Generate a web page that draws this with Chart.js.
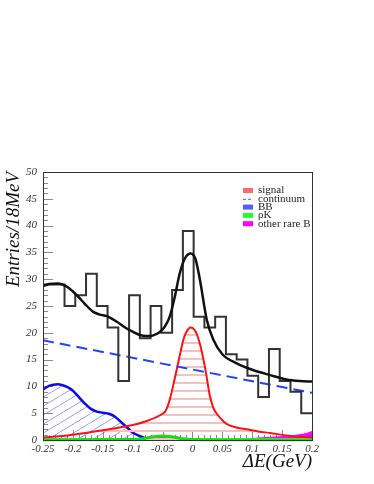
<!DOCTYPE html>
<html>
<head>
<meta charset="utf-8">
<script src="https://cdn.jsdelivr.net/npm/chart.js@4"></script>
<style>
  html, body { margin: 0; padding: 0; background: #fff; }
  canvas { display: block; }
</style>
</head>
<body>
<canvas id="deChart" width="374" height="484"></canvas>
<script>
// histogram: 25 bins of 18 MeV from -0.25 GeV
const binStart = -0.25;
const binWidth = 0.018;
const counts = [29, 29, 25, 27, 31, 25, 21, 11, 27, 19, 25, 20, 28, 39, 23, 21, 23, 16, 15, 12, 8, 17, 11, 9, 5];

// total fit
const fitX = [-0.25, -0.24, -0.225, -0.21, -0.2, -0.19, -0.18, -0.166, -0.155, -0.143, -0.127, -0.11, -0.1, -0.088, -0.078, -0.07, -0.06, -0.054, -0.046, -0.038, -0.03, -0.021, -0.012, -0.003, 0.005, 0.0125, 0.024, 0.035, 0.05, 0.074, 0.1, 0.13, 0.157, 0.18, 0.2];
const fitY = [28.7, 29.1, 29.2, 28.6, 27.7, 26.6, 25.4, 23.9, 23.4, 23.1, 22.1, 20.8, 20.2, 19.6, 19.4, 19.4, 19.8, 20.2, 21.2, 23.0, 26.5, 31.2, 34.0, 34.8, 33.8, 29.9, 22.4, 18.7, 16.0, 14.3, 13.1, 12.1, 11.3, 11.0, 10.9];

// signal
const sigX = [-0.25, -0.2, -0.15, -0.1, -0.075, -0.05, -0.045, -0.038, -0.03, -0.025, -0.02, -0.015, -0.01, -0.003, 0.005, 0.01, 0.015, 0.022, 0.029, 0.035, 0.04, 0.05, 0.057, 0.075, 0.09, 0.11, 0.13, 0.16, 0.18, 0.2];
const sigY = [0.45, 1.0, 1.8, 2.8, 3.6, 4.9, 5.4, 7.5, 11.3, 13.8, 16.4, 18.8, 20.2, 21.0, 20.3, 18.9, 16.8, 13.0, 8.3, 6.0, 5.0, 3.7, 3.0, 2.3, 2.0, 1.6, 1.3, 0.8, 0.6, 0.4];

// continuum (dashed)
const contX = [-0.25, 0.2];
const contY = [18.6, 8.8];

// BB background
const bbX = [-0.25, -0.24, -0.225, -0.21, -0.2, -0.19, -0.18, -0.17, -0.16, -0.15, -0.14, -0.13, -0.12, -0.11, -0.1, -0.09, -0.08, -0.07, -0.06, -0.04, 0.2];
const bbY = [9.4, 10.1, 10.4, 9.9, 9.2, 8.0, 6.8, 5.8, 5.3, 5.1, 4.9, 4.4, 3.4, 2.4, 1.4, 0.8, 0.4, 0.15, 0.05, 0, 0];

// rho K
const rhoX = [-0.25, -0.1, -0.08, -0.065, -0.05, -0.035, -0.02, 0, 0.05, 0.2];
const rhoY = [0.05, 0.1, 0.3, 0.6, 0.75, 0.6, 0.3, 0.1, 0.05, 0.05];

// other rare B
const rareX = [-0.25, -0.1, -0.08, -0.06, -0.05, -0.04, -0.02, 0, 0.05, 0.1, 0.13, 0.16, 0.18, 0.19, 0.2];
const rareY = [0.05, 0.1, 0.3, 0.45, 0.5, 0.45, 0.25, 0.15, 0.15, 0.3, 0.5, 0.7, 1.0, 1.2, 1.6];

const xTickValues = [-0.25, -0.2, -0.15, -0.1, -0.05, 0, 0.05, 0.1, 0.15, 0.2];
const yTickValues = [0, 5, 10, 15, 20, 25, 30, 35, 40, 45, 50];
const legendLabels = ["signal", "continuum", "BB", "\u03C1K", "other rare B"];

const serif = "'Liberation Serif', 'DejaVu Serif', serif";

function zip(xs, ys) {
  return xs.map((x, i) => ({ x, y: ys[i] }));
}

function histPoints() {
  const pts = counts.map((c, i) => ({ x: binStart + i * binWidth, y: c }));
  pts.push({ x: binStart + counts.length * binWidth, y: counts[counts.length - 1] });
  return pts;
}

function hatchPattern(w, h, color, draw) {
  const c = document.createElement("canvas");
  c.width = w;
  c.height = h;
  const g = c.getContext("2d");
  g.fillStyle = color;
  g.strokeStyle = color;
  g.lineWidth = 1;
  draw(g, w, h);
  return g.createPattern(c, "repeat");
}

// pink horizontal lines, one every 8 px
const sigHatch = hatchPattern(8, 8, "#ffbcbc", (g, w, h) => {
  g.fillRect(0, h - 2, w, 2);
});

const bbHatch = hatchPattern(15, 9, "rgba(90,90,255,0.6)", (g, w, h) => {
  g.beginPath();
  g.moveTo(-w, 2 * h);
  g.lineTo(2 * w, -h);
  g.stroke();
});

const frameAndTicks = {
  id: "frameAndTicks",
  beforeDatasetsDraw(chart) {
    const { ctx, chartArea: a, scales: { x, y } } = chart;
    ctx.save();
    ctx.strokeStyle = "#8a8a8a";
    ctx.lineWidth = 1;
    ctx.beginPath();
    for (let i = 0; i <= 50; i++) {
      const py = Math.round(y.getPixelForValue(i)) + 0.5;
      const len = i % 5 === 0 ? 10 : 5;
      ctx.moveTo(a.left, py);
      ctx.lineTo(a.left + len, py);
    }
    for (let i = 0; i <= 45; i++) {
      const px = Math.round(x.getPixelForValue(-0.25 + i * 0.01)) + 0.5;
      const len = i % 5 === 0 ? 10 : 5;
      ctx.moveTo(px, a.bottom);
      ctx.lineTo(px, a.bottom - len);
    }
    ctx.stroke();
    ctx.restore();
  },
  afterDatasetsDraw(chart) {
    const { ctx, chartArea: a } = chart;
    ctx.save();
    ctx.strokeStyle = "#333";
    ctx.lineWidth = 1;
    ctx.strokeRect(a.left + 0.5, a.top + 0.5, a.right - a.left, a.bottom - a.top);

    // legend
    const lx = 243, ly = 190.5, step = 8.3;
    ctx.font = "11px " + serif;
    ctx.textBaseline = "middle";
    legendLabels.forEach((label, i) => {
      const cy = ly + i * step;
      if (i === 0) { ctx.fillStyle = "#ff6a6a"; ctx.fillRect(lx, cy - 2.5, 10, 5); }
      if (i === 1) {
        ctx.strokeStyle = "#3355ff";
        ctx.setLineDash([3, 2]);
        ctx.beginPath(); ctx.moveTo(lx, cy + 0.5); ctx.lineTo(lx + 10, cy + 0.5); ctx.stroke();
        ctx.setLineDash([]);
      }
      if (i === 2) { ctx.fillStyle = "#5a5aff"; ctx.fillRect(lx, cy - 2.5, 10, 5); }
      if (i === 3) { ctx.fillStyle = "#22ff22"; ctx.fillRect(lx, cy - 2.5, 10, 5); }
      if (i === 4) { ctx.fillStyle = "#ff00ff"; ctx.fillRect(lx, cy - 2.5, 10, 5); }
      ctx.fillStyle = "#222";
      ctx.fillText(label, lx + 15, cy);
    });
    ctx.restore();
  },
};

const ctx = document.getElementById("deChart").getContext("2d");

new Chart(ctx, {
  type: "line",
  data: {
    datasets: [
      {
        label: "other rare B",
        data: zip(rareX, rareY),
        borderColor: "#ff00ff",
        backgroundColor: "#ff00ff",
        borderWidth: 1,
        fill: "origin",
        cubicInterpolationMode: "monotone",
        order: 7,
      },
      {
        label: "BB",
        data: zip(bbX, bbY),
        borderColor: "#0a0aee",
        backgroundColor: bbHatch,
        borderWidth: 2.5,
        fill: "origin",
        cubicInterpolationMode: "monotone",
        order: 6,
      },
      {
        label: "signal",
        data: zip(sigX, sigY),
        borderColor: "#ff1010",
        backgroundColor: sigHatch,
        borderWidth: 2,
        fill: "origin",
        cubicInterpolationMode: "monotone",
        order: 5,
      },
      {
        label: "rhoK",
        data: zip(rhoX, rhoY),
        borderColor: "#10e010",
        borderWidth: 3,
        fill: false,
        cubicInterpolationMode: "monotone",
        clip: 4,
        order: 4,
      },
      {
        label: "continuum",
        data: zip(contX, contY),
        borderColor: "#2244ff",
        borderWidth: 2,
        borderDash: [11, 6],
        fill: false,
        order: 3,
      },
      {
        label: "data",
        data: histPoints(),
        borderColor: "#333",
        borderWidth: 2,
        stepped: "before",
        fill: false,
        order: 2,
      },
      {
        label: "fit",
        data: zip(fitX, fitY),
        borderColor: "#111",
        borderWidth: 2.5,
        fill: false,
        cubicInterpolationMode: "monotone",
        order: 1,
      },
    ],
  },
  options: {
    responsive: false,
    animation: false,
    events: [],
    elements: { point: { radius: 0 } },
    layout: { padding: { left: 0, top: 172, right: 62, bottom: 0 } },
    plugins: { legend: { display: false }, tooltip: { enabled: false } },
    scales: {
      x: {
        type: "linear",
        min: -0.25,
        max: 0.2,
        grid: { display: false, drawTicks: false },
        border: { display: false },
        afterBuildTicks: (s) => { s.ticks = xTickValues.map((v) => ({ value: v })); },
        afterFit: (s) => { s.height = 44; },
        ticks: {
          padding: 3,
          maxRotation: 0,
          autoSkip: false,
          color: "#333",
          font: { family: serif, size: 11, style: "italic" },
          callback: (v) => String(Number(v.toFixed(2))),
        },
        title: {
          display: true,
          text: "\u0394E(GeV)",
          align: "end",
          color: "#111",
          padding: { top: 0, bottom: 11 },
          font: { family: serif, size: 19, style: "italic" },
        },
      },
      y: {
        type: "linear",
        min: 0,
        max: 50,
        grid: { display: false, drawTicks: false },
        border: { display: false },
        afterBuildTicks: (s) => { s.ticks = yTickValues.map((v) => ({ value: v })); },
        afterFit: (s) => { s.width = 43; },
        ticks: {
          padding: 6,
          color: "#333",
          font: { family: serif, size: 11, style: "italic" },
        },
        title: {
          display: true,
          text: "Entries/18MeV",
          align: "end",
          color: "#111",
          padding: { top: 3, bottom: 0 },
          font: { family: serif, size: 19, style: "italic" },
        },
      },
    },
  },
  plugins: [frameAndTicks],
});
</script>
</body>
</html>
